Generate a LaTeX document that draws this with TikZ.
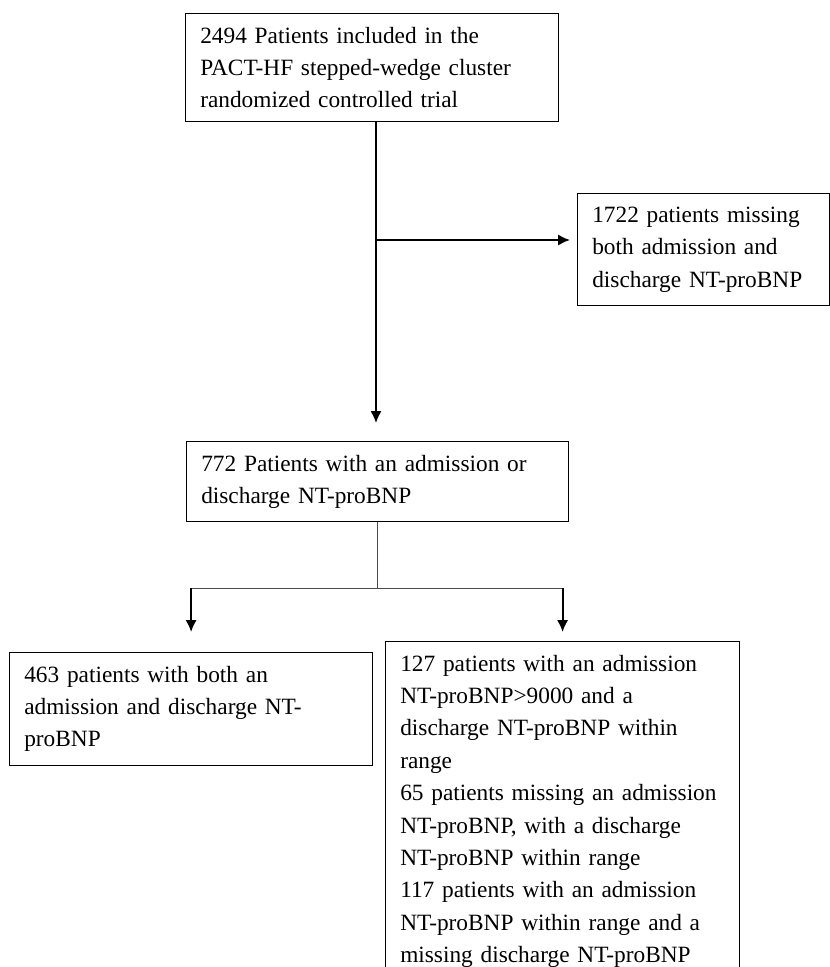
\documentclass[tikz,border=0pt]{standalone}
\usepackage{fontspec}
\setmainfont{Liberation Serif}
\usepackage{tikz}
\usetikzlibrary{positioning,arrows.meta,calc}
\hyphenpenalty=10000

\begin{document}
\begin{tikzpicture}[x=0.75pt,y=-0.75pt,
	>={Latex[length=9pt,width=8.5pt]},
	box/.style={draw,line width=0.9pt,anchor=north west,align=left,
		inner xsep=11pt,inner ysep=10pt,
		font=\fontsize{17.5pt}{24.3pt}\selectfont},
	flow/.style={line width=1.5pt},
	link/.style={line width=0.7pt,black!70}]
	\useasboundingbox (0,0) rectangle (830,967);
	\clip (0,0) rectangle (830,967);

	\node[box,text width=257.75pt] (B1) at (185,13)
		{2494 Patients included in the\\PACT-HF stepped-wedge cluster\\randomized controlled trial};
	\node[box,text width=167pt] (B3) at (577,193)
		{1722 patients missing\\both admission and\\discharge NT-proBNP};
	\node[box,text width=264.5pt] (B2) at (186,441)
		{772 Patients with an admission or\\discharge NT-proBNP};
	\node[box,text width=250.25pt] (B4) at (9,652)
		{463 patients with both an\\admission and discharge NT-\\proBNP};
	\node[box,text width=243.5pt] (B5) at (385,641)
		{127 patients with an admission\\NT-proBNP>9000 and a\\discharge NT-proBNP within\\range\\
		65 patients missing an admission\\NT-proBNP, with a discharge\\NT-proBNP within range\\
		117 patients with an admission\\NT-proBNP within range and a\\missing discharge NT-proBNP};

	\coordinate (split) at (376,240);
	\coordinate (fork) at (377,588);
	\coordinate (forkL) at (B4.north |- fork);
	\coordinate (forkR) at (B5.north |- fork);

	\draw[flow]  (B1.south -| split) -- (split);
	\draw[flow,->,shorten >=13.5pt]  (split) -- (B2.north -| split);
	\draw[flow,->,shorten >=5.25pt]  (split) -- (B3.west |- split);
	\draw[link]  (B2.south -| fork) -- (fork);
	\draw[link]  (forkL) -- (forkR);
	\draw[flow,->,shorten >=15pt]  (forkL) -- (B4.north);
	\draw[flow,->,shorten >=6.75pt]  (forkR) -- (B5.north);
\end{tikzpicture}
\end{document}
